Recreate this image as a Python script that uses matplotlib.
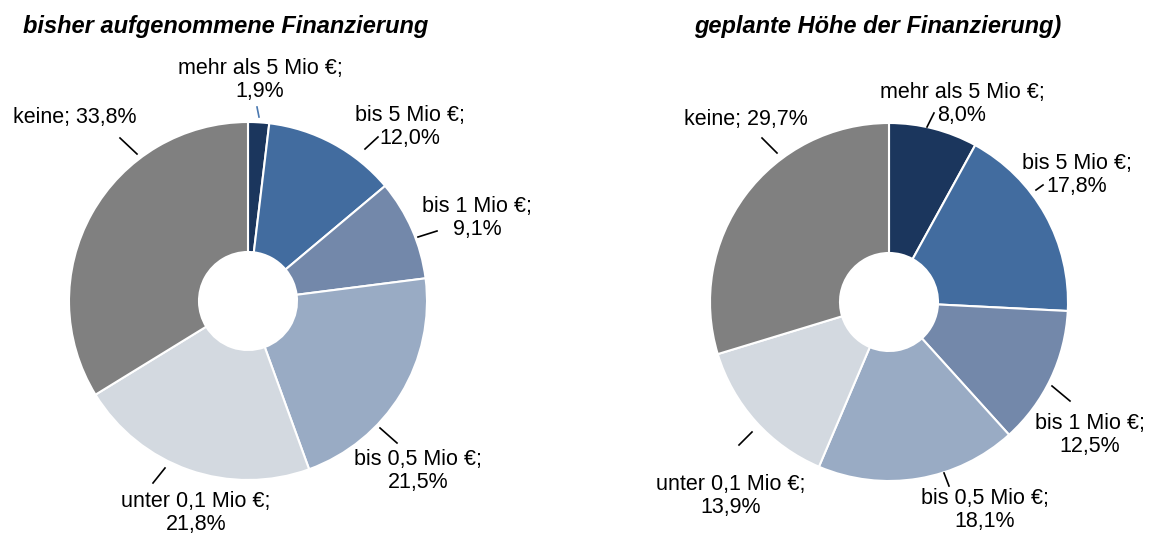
import matplotlib.pyplot as plt

plt.rcParams['font.family'] = ['Liberation Sans', 'DejaVu Sans']

# data (clockwise from top)
categories = ["mehr als 5 Mio €;", "bis 5 Mio €;", "bis 1 Mio €;",
              "bis 0,5 Mio €;", "unter 0,1 Mio €;", "keine;"]
bisher = [1.9, 12.0, 9.1, 21.5, 21.8, 33.8]
geplant = [8.0, 17.8, 12.5, 18.1, 13.9, 29.7]
titles = ["bisher aufgenommene Finanzierung", "geplante Höhe der Finanzierung)"]
colors = ["#1b365d", "#426c9f", "#7388aa", "#99abc4", "#d3d9e0", "#808080"]

W, H = 1156, 539

def pct(v):
    return f"{v:.1f}%".replace(".", ",")

fig = plt.figure(figsize=(W / 100, H / 100), dpi=100)
ax = fig.add_axes([0, 0, 1, 1])

# layout in pixel coords (from top-left): pie centres, label spots, leader lines
centers = [(248, 301), (889, 302)]
title_x = [226, 878]
label_pos = [
    [(260, 80), (410, 127), (477, 218), (418, 471), (196, 513), (75, 117)],
    [(962, 104), (1077, 175), (1090, 435), (985, 510), (731, 496), (746, 120)],
]
one_line = [False, False, False, False, False, True]
leaders = [
    [((257, 107), (259, 117)), ((365, 149), (378, 137)), ((418, 237), (437, 231)),
     ((380, 428), (397, 443)), ((153, 483), (165, 468)), ((120, 138), (137, 154))],
    [((927, 127), (934, 113)), ((1036, 190), (1043, 185)), ((1052, 386), (1070, 401)),
     ((944, 473), (949, 486)), ((739, 445), (752, 432)), ((762, 138), (777, 153))],
]

for i, vals in enumerate([bisher, geplant]):
    cx, cy = centers[i]
    ax.pie(vals, colors=colors, startangle=90, counterclock=False,
           radius=179, center=(cx, H - cy),
           wedgeprops=dict(width=130, edgecolor='white', linewidth=1.5))
    for j, (cat, v) in enumerate(zip(categories, vals)):
        lx, ly = label_pos[i][j]
        if one_line[j]:
            txt = f"{cat} {pct(v)}"
        else:
            txt = f"{cat}\n{pct(v)}"
        ax.text(lx, H - ly, txt, ha='center', va='center', fontsize=15.5,
                linespacing=1.15, color='black')
        (x1, y1), (x2, y2) = leaders[i][j]
        lc = '#4a78b0' if (i == 0 and j == 0) else 'black'
        ax.plot([x1, x2], [H - y1, H - y2], color=lc, linewidth=1.2)

    ax.text(title_x[i], H - 27, titles[i], ha='center', va='center', fontsize=17,
            fontweight='bold', fontstyle='italic')

ax.set_xlim(0, W)
ax.set_ylim(0, H)
ax.set_aspect('equal')
ax.axis('off')

plt.savefig("out.png", dpi=100)
